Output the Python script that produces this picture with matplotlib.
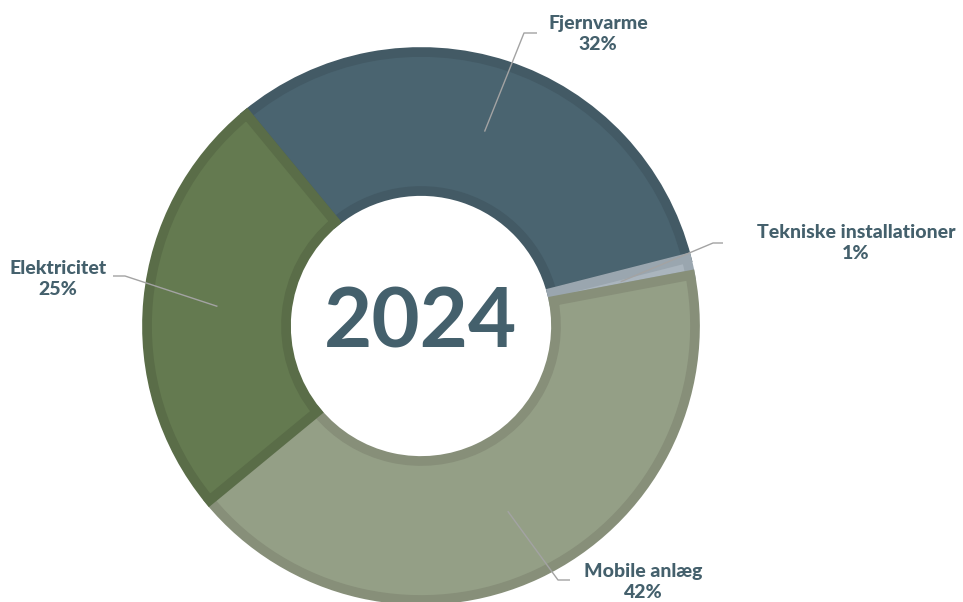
import numpy as np
import matplotlib
matplotlib.use("Agg")
import matplotlib.pyplot as plt

# Energy use by source, 2024 (share in %)
categories = ["Fjernvarme", "Tekniske installationer", "Mobile anlæg", "Elektricitet"]
shares = [32, 1, 42, 25]
fill_colors = ["#4a6470", "#aab5be", "#949f86", "#647a50"]
edge_colors = ["#435a65", "#9aa6af", "#878f79", "#5a6d48"]
year_label = "2024"

W, H = 963, 602
fig = plt.figure(figsize=(W / 100, H / 100), dpi=100)
ax = fig.add_axes([0, 0, 1, 1])

cx, cy = 421, H - 326
r_out = 274
ring = 139

wedges, _ = ax.pie(
    shares, colors=fill_colors, startangle=129.5, counterclock=False,
    radius=r_out, center=(cx, cy), frame=True,
    wedgeprops=dict(width=ring, linewidth=0),
)
ax.set_xlim(0, W)
ax.set_ylim(0, H)
ax.set_aspect("equal")
ax.axis("off")

# inner border on each segment: a thick edge clipped to the wedge itself
for w, ec in zip(wedges, edge_colors):
    w.set_edgecolor(ec)
    w.set_linewidth(7.0)
    w.set_clip_path(w)

label_color = "#44606c"
font = dict(family="Lato", color=label_color)

ax.text(cx, cy + 2, year_label, ha="center", va="center", fontsize=60,
        fontweight="bold", **font)

# leader lines and labels: (elbow point, end point, label centre)
layout = {
    "Fjernvarme": ((524, 33), (537, 33), (598, 34), "center"),
    "Tekniske installationer": ((713, 243), (723, 243), (856, 243), "center"),
    "Mobile anlæg": ((558, 580), (570, 580), (643, 582), "center"),
    "Elektricitet": ((125, 276), (113, 276), (58, 279), "center"),
}

r_mid = r_out - ring / 2
for w, name, val in zip(wedges, categories, shares):
    ang = np.deg2rad((w.theta1 + w.theta2) / 2)
    sx, sy = cx + r_mid * np.cos(ang), cy + r_mid * np.sin(ang)
    (ex, ey), (fx, fy), (lx, ly), ha = layout[name]
    ax.plot([sx, ex, fx], [sy, H - ey, H - fy], color="#a3a3a3", lw=1.0,
            solid_capstyle="butt", zorder=5)
    ax.text(lx, H - ly, f"{name}\n{val}%", ha=ha, va="center",
            fontsize=14, fontweight="black", linespacing=1.25, **font)

fig.savefig("out.png", dpi=100, facecolor="white")
